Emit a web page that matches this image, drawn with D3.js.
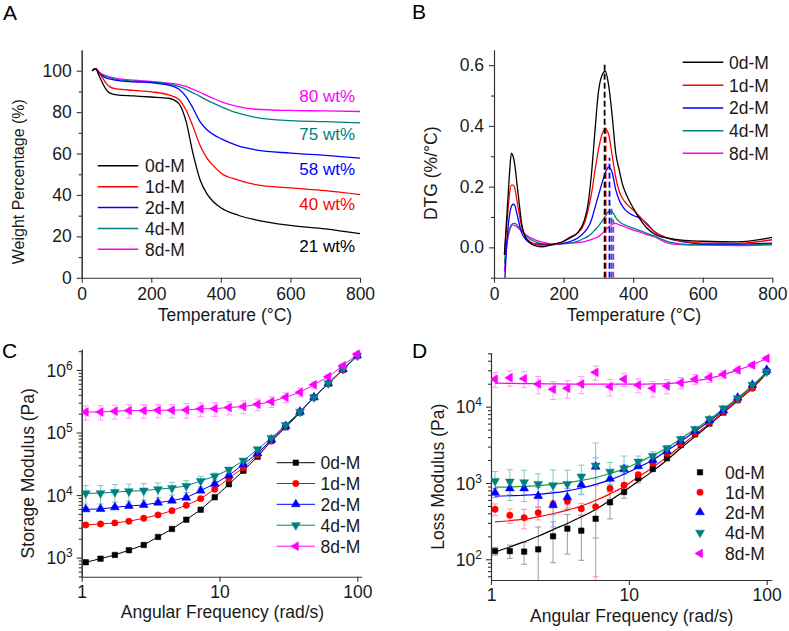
<!DOCTYPE html>
<html><head><meta charset="utf-8">
<script src="https://cdn.jsdelivr.net/npm/d3@7"></script>
<style>body{margin:0;background:#fff}</style>
</head><body><script>
// ---------------- DATA ----------------
const seriesNames = ["0d-M","1d-M","2d-M","4d-M","8d-M"];

// Panel A: TGA weight %
const tempA = [30,40,50,60,70,80,100,150,200,250,280,300,320,340,360,380,400,450,500,600,700,800];
const wt0 = [100,101,97.5,94,91,89.3,88.3,87.8,87.3,86.7,84,75.5,60,47.5,40.5,36.5,33.8,30.2,28,25.3,23.6,21.3];
const wt1 = [100,101,98.8,96.5,94,92.3,91.2,90.5,89.8,88.3,86,81,73,64,57.8,53.8,50.6,47.2,45,43.4,42.1,40.2];
const wt2 = [100,101,99,97.5,96.5,96,95.3,94.6,94.2,93.1,91,87.5,81.9,75.4,71.5,69,67.2,63.7,61.8,60.2,59.1,57.8];
const wt4 = [100,101,99.2,98,97.2,96.6,95.8,95,94.6,93.7,92.3,91,89.3,87.6,85.8,84.2,82.7,79.5,77.5,75.9,75.4,74.8];
const wt8 = [100,101,99.4,98.3,97.6,97,96.3,95.4,94.8,94,93.3,92.4,91,89.6,88,86.5,85.1,82.7,81.4,80.8,80.6,80.3];
const residueLabels = ["21 wt%","40 wt%","58 wt%","75 wt%","80 wt%"];

// Panel B: DTG
const tempB = [30,35,40,45,50,55,60,65,70,80,90,100,120,140,170,200,220,240,260,270,280,290,300,310,320,330,340,350,360,370,380,400,420,440,460,500,550,600,700,800];
const dtg0 = [-0.025,0.07,0.16,0.25,0.31,0.30,0.27,0.22,0.17,0.075,0.035,0.018,0.005,0.002,0.010,0.020,0.032,0.048,0.09,0.14,0.24,0.38,0.51,0.565,0.58,0.53,0.43,0.31,0.255,0.205,0.175,0.13,0.092,0.063,0.045,0.03,0.023,0.02,0.018,0.033];
const dtg1 = [-0.02,0.05,0.12,0.18,0.205,0.205,0.195,0.16,0.128,0.065,0.035,0.022,0.01,0.007,0.008,0.02,0.035,0.046,0.08,0.12,0.175,0.25,0.32,0.37,0.39,0.37,0.30,0.23,0.185,0.16,0.145,0.123,0.10,0.074,0.052,0.03,0.019,0.014,0.013,0.025];
const dtg2 = [-0.13,-0.02,0.06,0.11,0.135,0.142,0.138,0.115,0.09,0.046,0.028,0.017,0.011,0.01,0.01,0.014,0.02,0.03,0.05,0.065,0.09,0.13,0.17,0.21,0.245,0.265,0.245,0.19,0.155,0.134,0.12,0.105,0.096,0.078,0.053,0.03,0.017,0.011,0.011,0.014];
const dtg4 = [-0.053,0.0,0.04,0.062,0.074,0.079,0.079,0.075,0.068,0.055,0.041,0.03,0.018,0.011,0.01,0.012,0.014,0.02,0.03,0.036,0.045,0.057,0.07,0.085,0.102,0.118,0.117,0.098,0.085,0.077,0.072,0.063,0.055,0.046,0.038,0.019,0.01,0.009,0.008,0.011];
const dtg8 = [-0.08,-0.01,0.03,0.055,0.07,0.074,0.072,0.068,0.063,0.052,0.043,0.035,0.024,0.017,0.01,0.012,0.014,0.016,0.019,0.022,0.026,0.03,0.035,0.045,0.056,0.068,0.076,0.079,0.074,0.07,0.066,0.057,0.05,0.042,0.035,0.014,0.008,0.007,0.006,0.008];
const peakTemp = [318,321,332,338,343];
const peakTop  = [0.61,0.405,0.295,0.135,0.092];

// Panels C & D: frequency sweep
const freq = [1.07,1.37,1.74,2.2,2.82,3.58,4.52,5.74,7.3,9.23,11.7,14.9,18.9,23.8,30.2,38.4,48.5,61.6,78.7,100];
// Storage modulus (Pa)
const gp0 = [844,964,1105,1314,1596,2143,2877,4046,5848,9226,14900,24550,41100,73300,121000,208000,366000,603000,1010000,1670000];
const gp1 = [3334,3459,3590,3820,4266,4819,5635,6870,8770,12400,18600,27400,43700,73300,124000,215000,366000,603000,1010000,1700000];
const gp2 = [5930,6000,6380,6690,6950,7570,8150,9100,11800,15200,20700,31100,46600,76900,127000,215000,366000,612000,1030000,1700000];
const gp4 = [10700,10700,11200,11500,11800,12400,13000,14000,16800,20000,25500,35500,54000,81800,132000,215000,366000,612000,1030000,1700000];
const gp8 = [213000,213000,219000,224000,224000,227000,227000,230000,239000,241000,251000,260000,283000,312000,366000,440000,582000,781000,1170000,1780000];
const gpErr0 = [60,60,70,80,90,120,150,200,250,350,500,800,1200,2000,3000,5000,8000,12000,20000,30000];
const gpErr1 = [150,150,150,160,180,200,230,280,350,500,700,1000,1500,2000,3000,5000,8000,12000,20000,30000];
const gpErr2 = [400,400,400,420,450,480,500,550,650,800,1000,1300,1800,2500,3500,5000,8000,12000,20000,30000];
const gpErr4 = [3500,3500,3500,3500,3500,3300,3000,3000,3200,2500,2000,2000,2000,2000,2500,4000,6000,8000,15000,30000];
const gpErr8 = [55000,55000,55000,55000,55000,55000,55000,60000,60000,60000,60000,60000,60000,60000,65000,70000,70000,60000,80000,100000];
// Loss modulus (Pa)
const gpp0 = [128,128,126,135,200,252,237,340,558,762,1150,1525,2108,3155,4350,6000,8360,12200,17800,28800];
const gpp1 = [452,377,351,408,526,575,460,489,851,933,1285,1813,2450,3240,4480,6240,8610,12200,17400,29400];
const gpp2 = [747,851,851,676,515,650,951,1637,1138,1513,1670,2000,2620,3550,4800,6620,8960,13100,19300,30300];
const gpp4 = [1063,1040,1020,970,931,970,1212,1690,1406,1557,1905,2260,2840,3770,5100,6900,9500,12900,19300,28800];
const gpp8 = [22900,24000,23300,19800,16900,17400,19800,28200,18300,22900,19200,17400,18700,20600,22900,24300,26600,30300,35200,43000];
const gppErr0 = [15,25,40,130,110,135,140,150,220,130,150,100,100,150,200,300,400,500,800,1000];
const gppErr1 = [80,80,100,80,60,60,80,430,100,80,100,100,100,150,200,300,400,500,800,1000];
const gppErr2 = [100,150,150,200,250,200,250,500,250,200,150,150,150,200,200,300,400,500,800,1000];
const gppErr4 = [350,450,450,350,550,500,500,1650,450,700,350,300,250,250,250,300,400,500,800,1000];
const gppErr8 = [5000,5500,5500,5000,4500,4500,5000,6000,4500,4500,4000,4000,4000,3500,3500,3500,3000,3000,3000,3000];
// fitted curves in D
const fit0 = [125,145,170,200,245,295,360,450,590,780,1050,1430,2000,2850,4050,5800,8300,12000,17500,27500];
const fit1 = [310,320,335,360,395,440,500,590,720,900,1200,1600,2200,3050,4300,6000,8500,12000,17500,28000];
const fit2 = [670,680,690,710,740,790,860,960,1100,1300,1600,2000,2650,3500,4750,6500,9000,12800,18500,28500];
const fit4 = [880,885,900,925,960,1010,1080,1180,1330,1530,1850,2300,2900,3800,5050,6800,9300,13000,18800,28500];
const fit8 = [20300,20200,20100,20000,19900,19800,19800,19800,19800,19800,19800,19900,20100,20700,21800,23500,26300,30200,35500,43000];

// ---------------- STYLE ----------------
const colors = ["#000000","#ff0000","#0000ff","#008080","#ff00ff"];
const errColors = ["#9a9a9a","#ff9a9a","#9a9aff","#80c8c8","#ff9aff"];
const fitColors = ["#000000","#ff0000","#0000ff","#1a9e3a","#ff00ff"];
const FONT = '"Liberation Sans", Arial, Helvetica, sans-serif';
const TICKF = 17.5;

const svg = d3.select("body").append("svg").attr("width",789).attr("height",631)
  .style("font-family",FONT);
const defs = svg.append("defs");

function clip(id, x0, y0, x1, y1){
  defs.append("clipPath").attr("id",id).append("rect")
    .attr("x",x0).attr("y",y0).attr("width",x1-x0).attr("height",y1-y0);
  return "url(#"+id+")";
}

function styleAxis(g){
  g.selectAll(".domain").attr("stroke","#333").attr("stroke-width",1.1);
  g.selectAll(".tick line").attr("stroke","#333").attr("stroke-width",1.1);
  g.selectAll(".tick text").attr("font-size",TICKF).attr("fill","#1a1a1a").attr("font-family",FONT);
}

function drawXAxis(y0, x, major, minor, fmt, pad){
  const g = svg.append("g").attr("transform",`translate(0,${y0})`);
  g.call(d3.axisBottom(x).tickValues(minor).tickSizeInner(3).tickSizeOuter(0).tickFormat(""));
  g.call(d3.axisBottom(x).tickValues(major).tickSizeInner(5).tickSizeOuter(0).tickPadding(pad).tickFormat(fmt));
  styleAxis(g);
  return g;
}
function drawYAxis(x0, y, major, minor, fmt, pow){
  const g = svg.append("g").attr("transform",`translate(${x0},0)`);
  g.call(d3.axisLeft(y).tickValues(minor).tickSizeInner(3).tickSizeOuter(0).tickFormat(""));
  const m = g.append("g");
  m.call(d3.axisLeft(y).tickValues(major).tickSizeInner(5).tickSizeOuter(0).tickPadding(5).tickFormat(pow ? (()=>"") : fmt));
  styleAxis(g);
  if (pow){
    m.selectAll(".tick").each(function(d){
      const t = d3.select(this).append("text").attr("x",-9).attr("dy","0.36em")
        .attr("text-anchor","end").attr("font-size",TICKF).attr("fill","#1a1a1a");
      t.append("tspan").text("10");
      t.append("tspan").attr("dy","-0.6em").attr("font-size",12).text(Math.round(Math.log10(d)));
    });
  }
  return g;
}
function xTitle(txt, cx, by){
  svg.append("text").attr("x",cx).attr("y",by).attr("text-anchor","middle")
    .attr("font-size",17.5).attr("fill","#1a1a1a").text(txt);
}
function yTitle(txt, bx, cy, fs){
  svg.append("text").attr("transform",`translate(${bx},${cy}) rotate(-90)`)
    .attr("text-anchor","middle").attr("font-size",fs).attr("fill","#1a1a1a").text(txt);
}
function panelLetter(txt, x, y){
  svg.append("text").attr("x",x).attr("y",y).attr("font-size",21).attr("fill","#000").text(txt);
}
function logMinor(lo, hi){
  const out=[];
  for(let e=lo;e<=hi;e++){ for(let k=2;k<=9;k++) out.push(k*Math.pow(10,e)); }
  return out;
}

// ---------------- PANEL A ----------------
{
  const x = d3.scaleLinear().domain([0,800]).range([81.7,360]);
  const y = d3.scaleLinear().domain([0,110]).range([277.8,50]);
  drawXAxis(277.8, x, [0,200,400,600,800], [100,300,500,700], d3.format("d"), 5);
  drawYAxis(81.7, y, [0,20,40,60,80,100], [10,30,50,70,90], d3.format("d"), false);
  const sets = [wt0,wt1,wt2,wt4,wt8];
  const line = d3.line().x((d,i)=>x(tempA[i])).y(d=>y(d)).curve(d3.curveMonotoneX);
  [4,3,2,1,0].forEach(s=>{
    svg.append("path").attr("d",line(sets[s])).attr("fill","none")
      .attr("stroke",colors[s]).attr("stroke-width",1.3);
  });
  const labelBase = [252,210,175,140,101.5];
  residueLabels.forEach((t,i)=>{
    svg.append("text").attr("x",355).attr("y",labelBase[i]).attr("text-anchor","end")
      .attr("font-size",17).attr("fill",colors[i]).text(t);
  });
  const ly = [165.7,186.7,207.5,228.5,249.3];
  seriesNames.forEach((n,i)=>{
    svg.append("line").attr("x1",97.7).attr("x2",138.3).attr("y1",ly[i]).attr("y2",ly[i])
      .attr("stroke",colors[i]).attr("stroke-width",1.5);
    svg.append("text").attr("x",145).attr("y",ly[i]+6.3).attr("font-size",17.5)
      .attr("fill","#1a1a1a").text(n);
  });
  xTitle("Temperature (\u00B0C)", 225, 321);
  yTitle("Weight Percentage (%)", 24, 181.7, 16);
  panelLetter("A", 3, 20);
}

// ---------------- PANEL B ----------------
{
  const x = d3.scaleLinear().domain([0,800]).range([494,772.3]);
  const y = d3.scaleLinear().domain([-0.1,0.65]).range([277.7,50]);
  drawXAxis(277.7, x, [0,200,400,600,800], [100,300,500,700], d3.format("d"), 5);
  drawYAxis(494, y, [0,0.2,0.4,0.6], [-0.1,0.1,0.3,0.5], d3.format(".1f"), false);
  const cp = clip("clipB", 494, 50, 772.3, 277.7);
  const sets = [dtg0,dtg1,dtg2,dtg4,dtg8];
  const line = d3.line().x((d,i)=>x(tempB[i])).y(d=>y(d)).curve(d3.curveMonotoneX);
  const g = svg.append("g").attr("clip-path",cp);
  [4,3,2,1,0].forEach(s=>{
    g.append("path").attr("d",line(sets[s])).attr("fill","none")
      .attr("stroke",colors[s]).attr("stroke-width",1.3);
  });
  [4,3,2,1,0].forEach(s=>{
    g.append("line").attr("x1",x(peakTemp[s])).attr("x2",x(peakTemp[s]))
      .attr("y1",y(-0.1)).attr("y2",y(peakTop[s]))
      .attr("stroke",colors[s]).attr("stroke-width",1.8).attr("stroke-dasharray","6,3");
  });
  const ly = [62.3,85.2,108,130.7,153.3];
  seriesNames.forEach((n,i)=>{
    svg.append("line").attr("x1",682.7).attr("x2",723.3).attr("y1",ly[i]).attr("y2",ly[i])
      .attr("stroke",colors[i]).attr("stroke-width",1.5);
    svg.append("text").attr("x",729).attr("y",ly[i]+6.3).attr("font-size",17.5)
      .attr("fill","#1a1a1a").text(n);
  });
  xTitle("Temperature (\u00B0C)", 634, 321);
  yTitle("DTG (%/\u00B0C)", 437, 173.3, 17.5);
  panelLetter("B", 412, 19);
}

// marker helper
const symTypes = [d3.symbolSquare, d3.symbolCircle, d3.symbolTriangle, d3.symbolTriangle, d3.symbolTriangle];
const symRot = [0,0,0,180,-90];
const symSize = [30,32,34,34,34];
function marker(g, s, cx, cy, color){
  g.append("path").attr("d",d3.symbol().type(symTypes[s]).size(symSize[s])())
    .attr("transform",`translate(${cx},${cy}) rotate(${symRot[s]})`)
    .attr("fill",color).attr("stroke",color).attr("stroke-width",0.5);
}
function errBars(g, x, y, vals, errs, color, yMin){
  vals.forEach((v,i)=>{
    const lo = Math.max(v-errs[i], yMin), hi = v+errs[i];
    const cx = x(freq[i]);
    g.append("line").attr("x1",cx).attr("x2",cx).attr("y1",y(lo)).attr("y2",y(hi))
      .attr("stroke",color).attr("stroke-width",1);
    [hi, v-errs[i]].forEach(e=>{
      if (e>yMin){
        g.append("line").attr("x1",cx-3).attr("x2",cx+3).attr("y1",y(e)).attr("y2",y(e))
          .attr("stroke",color).attr("stroke-width",1);
      }
    });
  });
}

// ---------------- PANEL C ----------------
{
  const x = d3.scaleLog().domain([1,107.6]).range([81.7,361.7]);
  const y = d3.scaleLog().domain([496,2.14e6]).range([576.7,349.3]);
  drawXAxis(576.7, x, [1,10,100], logMinor(0,1), d=>String(d), 4);
  drawYAxis(81.7, y, [1e3,1e4,1e5,1e6], logMinor(2,6).filter(v=>v>=496 && v<=2.14e6), null, true);
  const cp = clip("clipC", 81.7, 349.3, 361.7, 576.7);
  const g = svg.append("g").attr("clip-path",cp);
  const sets = [gp0,gp1,gp2,gp4,gp8];
  const errs = [gpErr0,gpErr1,gpErr2,gpErr4,gpErr8];
  const line = d3.line().x((d,i)=>x(freq[i])).y(d=>y(d));
  [0,1,2,3,4].forEach(s=>errBars(g, x, y, sets[s], errs[s], errColors[s], 496));
  [0,1,2,3,4].forEach(s=>{
    g.append("path").attr("d",line(sets[s])).attr("fill","none")
      .attr("stroke",colors[s]).attr("stroke-width",1);
    sets[s].forEach((v,i)=>marker(g, s, x(freq[i]), y(v), colors[s]));
  });
  const ly = [462.7,483.5,504.3,525.2,546.2];
  seriesNames.forEach((n,i)=>{
    svg.append("line").attr("x1",276.7).attr("x2",315).attr("y1",ly[i]).attr("y2",ly[i])
      .attr("stroke",colors[i]).attr("stroke-width",1);
    marker(svg, i, 295.8, ly[i], colors[i]);
    svg.append("text").attr("x",320.5).attr("y",ly[i]+6.3).attr("font-size",17.5)
      .attr("fill","#1a1a1a").text(n);
  });
  xTitle("Angular Frequency (rad/s)", 222.5, 617.5);
  yTitle("Storage Modulus (Pa)", 33.5, 473.3, 17.5);
  panelLetter("C", 2, 358);
}

// ---------------- PANEL D ----------------
{
  const x = d3.scaleLog().domain([1,108.7]).range([491,771.7]);
  const y = d3.scaleLog().domain([53.5,51000]).range([580,352.7]);
  drawXAxis(580, x, [1,10,100], logMinor(0,1), d=>String(d), 4);
  drawYAxis(491, y, [1e2,1e3,1e4], logMinor(1,4).filter(v=>v>=53.5 && v<=51000), null, true);
  const cp = clip("clipD", 491, 352.7, 771.7, 580);
  const g = svg.append("g").attr("clip-path",cp);
  const sets = [gpp0,gpp1,gpp2,gpp4,gpp8];
  const errs = [gppErr0,gppErr1,gppErr2,gppErr4,gppErr8];
  const fits = [fit0,fit1,fit2,fit4,fit8];
  const line = d3.line().x((d,i)=>x(freq[i])).y(d=>y(d)).curve(d3.curveMonotoneX);
  [0,1,2,3,4].forEach(s=>errBars(g, x, y, sets[s], errs[s], errColors[s], 53.5*0.8));
  [0,1,2,3,4].forEach(s=>{
    g.append("path").attr("d",line(fits[s])).attr("fill","none")
      .attr("stroke",fitColors[s]).attr("stroke-width",1.2);
  });
  [0,1,2,3,4].forEach(s=>{
    sets[s].forEach((v,i)=>marker(g, s, x(freq[i]), y(v), colors[s]));
  });
  const ly = [472.3,492.3,512.3,532.7,553.5];
  seriesNames.forEach((n,i)=>{
    marker(svg, i, 700, ly[i], colors[i]);
    svg.append("text").attr("x",725).attr("y",ly[i]+6.3).attr("font-size",17.5)
      .attr("fill","#1a1a1a").text(n);
  });
  xTitle("Angular Frequency (rad/s)", 631.7, 622);
  yTitle("Loss Modulus (Pa)", 443.5, 476.7, 17.5);
  panelLetter("D", 412, 358);
}
</script></body></html>
